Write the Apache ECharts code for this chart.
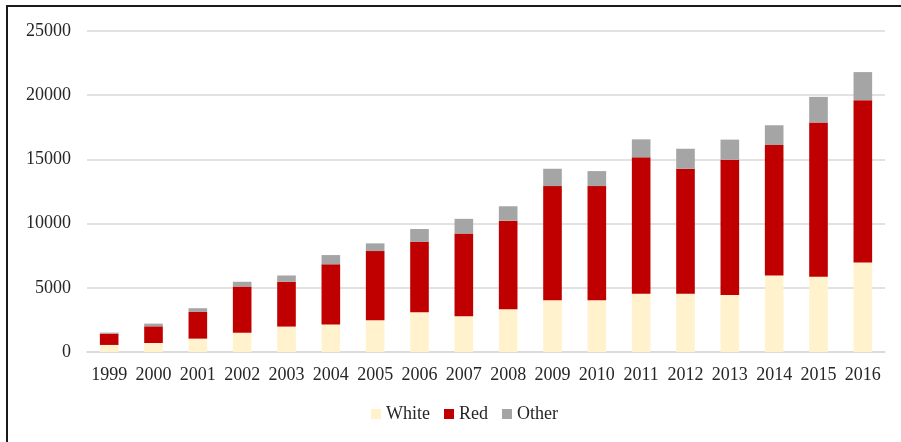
<!DOCTYPE html>
<html>
<head>
<meta charset="utf-8">
<script src="https://cdn.jsdelivr.net/npm/echarts@6/dist/echarts.min.js"></script>
<style>
  html, body { margin: 0; padding: 0; background: #fff; }
  #chart { width: 901px; height: 442px; }
</style>
</head>
<body>
<div id="chart"></div>
<script>
// Wine production by type, 1999-2016
const years = ['1999','2000','2001','2002','2003','2004','2005','2006','2007','2008',
               '2009','2010','2011','2012','2013','2014','2015','2016'];
const whiteVals = [550, 700, 1040, 1500, 1980, 2150, 2470, 3100, 2790, 3330,
                   4040, 4040, 4530, 4530, 4430, 5960, 5860, 6980];
const redVals   = [880, 1300, 2080, 3600, 3490, 4680, 5390, 5470, 6430, 6900,
                   8880, 8880, 10630, 9740, 10550, 10160, 12010, 12630];
const otherVals = [80, 210, 290, 370, 490, 720, 600, 1010, 1150, 1120,
                   1350, 1170, 1400, 1560, 1560, 1540, 2000, 2190];
const yTicks = { min: 0, max: 25000, interval: 5000 };

const font = 'Liberation Serif';
const textColor = '#262626';

const chart = echarts.init(document.getElementById('chart'), null, { renderer: 'canvas' });

function barSeries(name, data, color) {
  return {
    name: name,
    type: 'bar',
    stack: 'total',
    data: data,
    barWidth: '42%',
    itemStyle: { color: color },
    emphasis: { disabled: true }
  };
}

chart.setOption({
  animation: false,
  backgroundColor: '#ffffff',
  textStyle: { fontFamily: font },
  grid: { left: 87, right: 16, top: 31, bottom: 90, containLabel: false },
  legend: {
    bottom: 14,
    left: 366,
    itemWidth: 10,
    itemHeight: 10,
    itemGap: 14,
    icon: 'rect',
    textStyle: { fontFamily: font, fontSize: 18, color: textColor },
    data: ['White', 'Red', 'Other']
  },
  xAxis: {
    type: 'category',
    data: years,
    axisLine: { show: true, lineStyle: { color: '#d9d9d9', width: 1.5 } },
    axisTick: { show: false },
    axisLabel: { fontFamily: font, fontSize: 18, color: textColor, margin: 14, interval: 0 }
  },
  yAxis: {
    type: 'value',
    min: yTicks.min,
    max: yTicks.max,
    interval: yTicks.interval,
    axisLine: { show: false },
    axisTick: { show: false },
    splitLine: { lineStyle: { color: '#d9d9d9', width: 1.5 } },
    axisLabel: {
      fontFamily: font, fontSize: 18, color: textColor, margin: 16,
      formatter: function (v) { return String(v); }
    }
  },
  series: [
    barSeries('White', whiteVals, '#fff2cc'),
    barSeries('Red', redVals, '#c00000'),
    barSeries('Other', otherVals, '#a5a5a5')
  ],
  graphic: [
    {
      type: 'polyline',
      silent: true,
      shape: { points: [[7, 442], [7, 6], [901, 6]] },
      style: { stroke: '#1a1a1a', lineWidth: 2, fill: null }
    }
  ]
});
</script>
</body>
</html>
